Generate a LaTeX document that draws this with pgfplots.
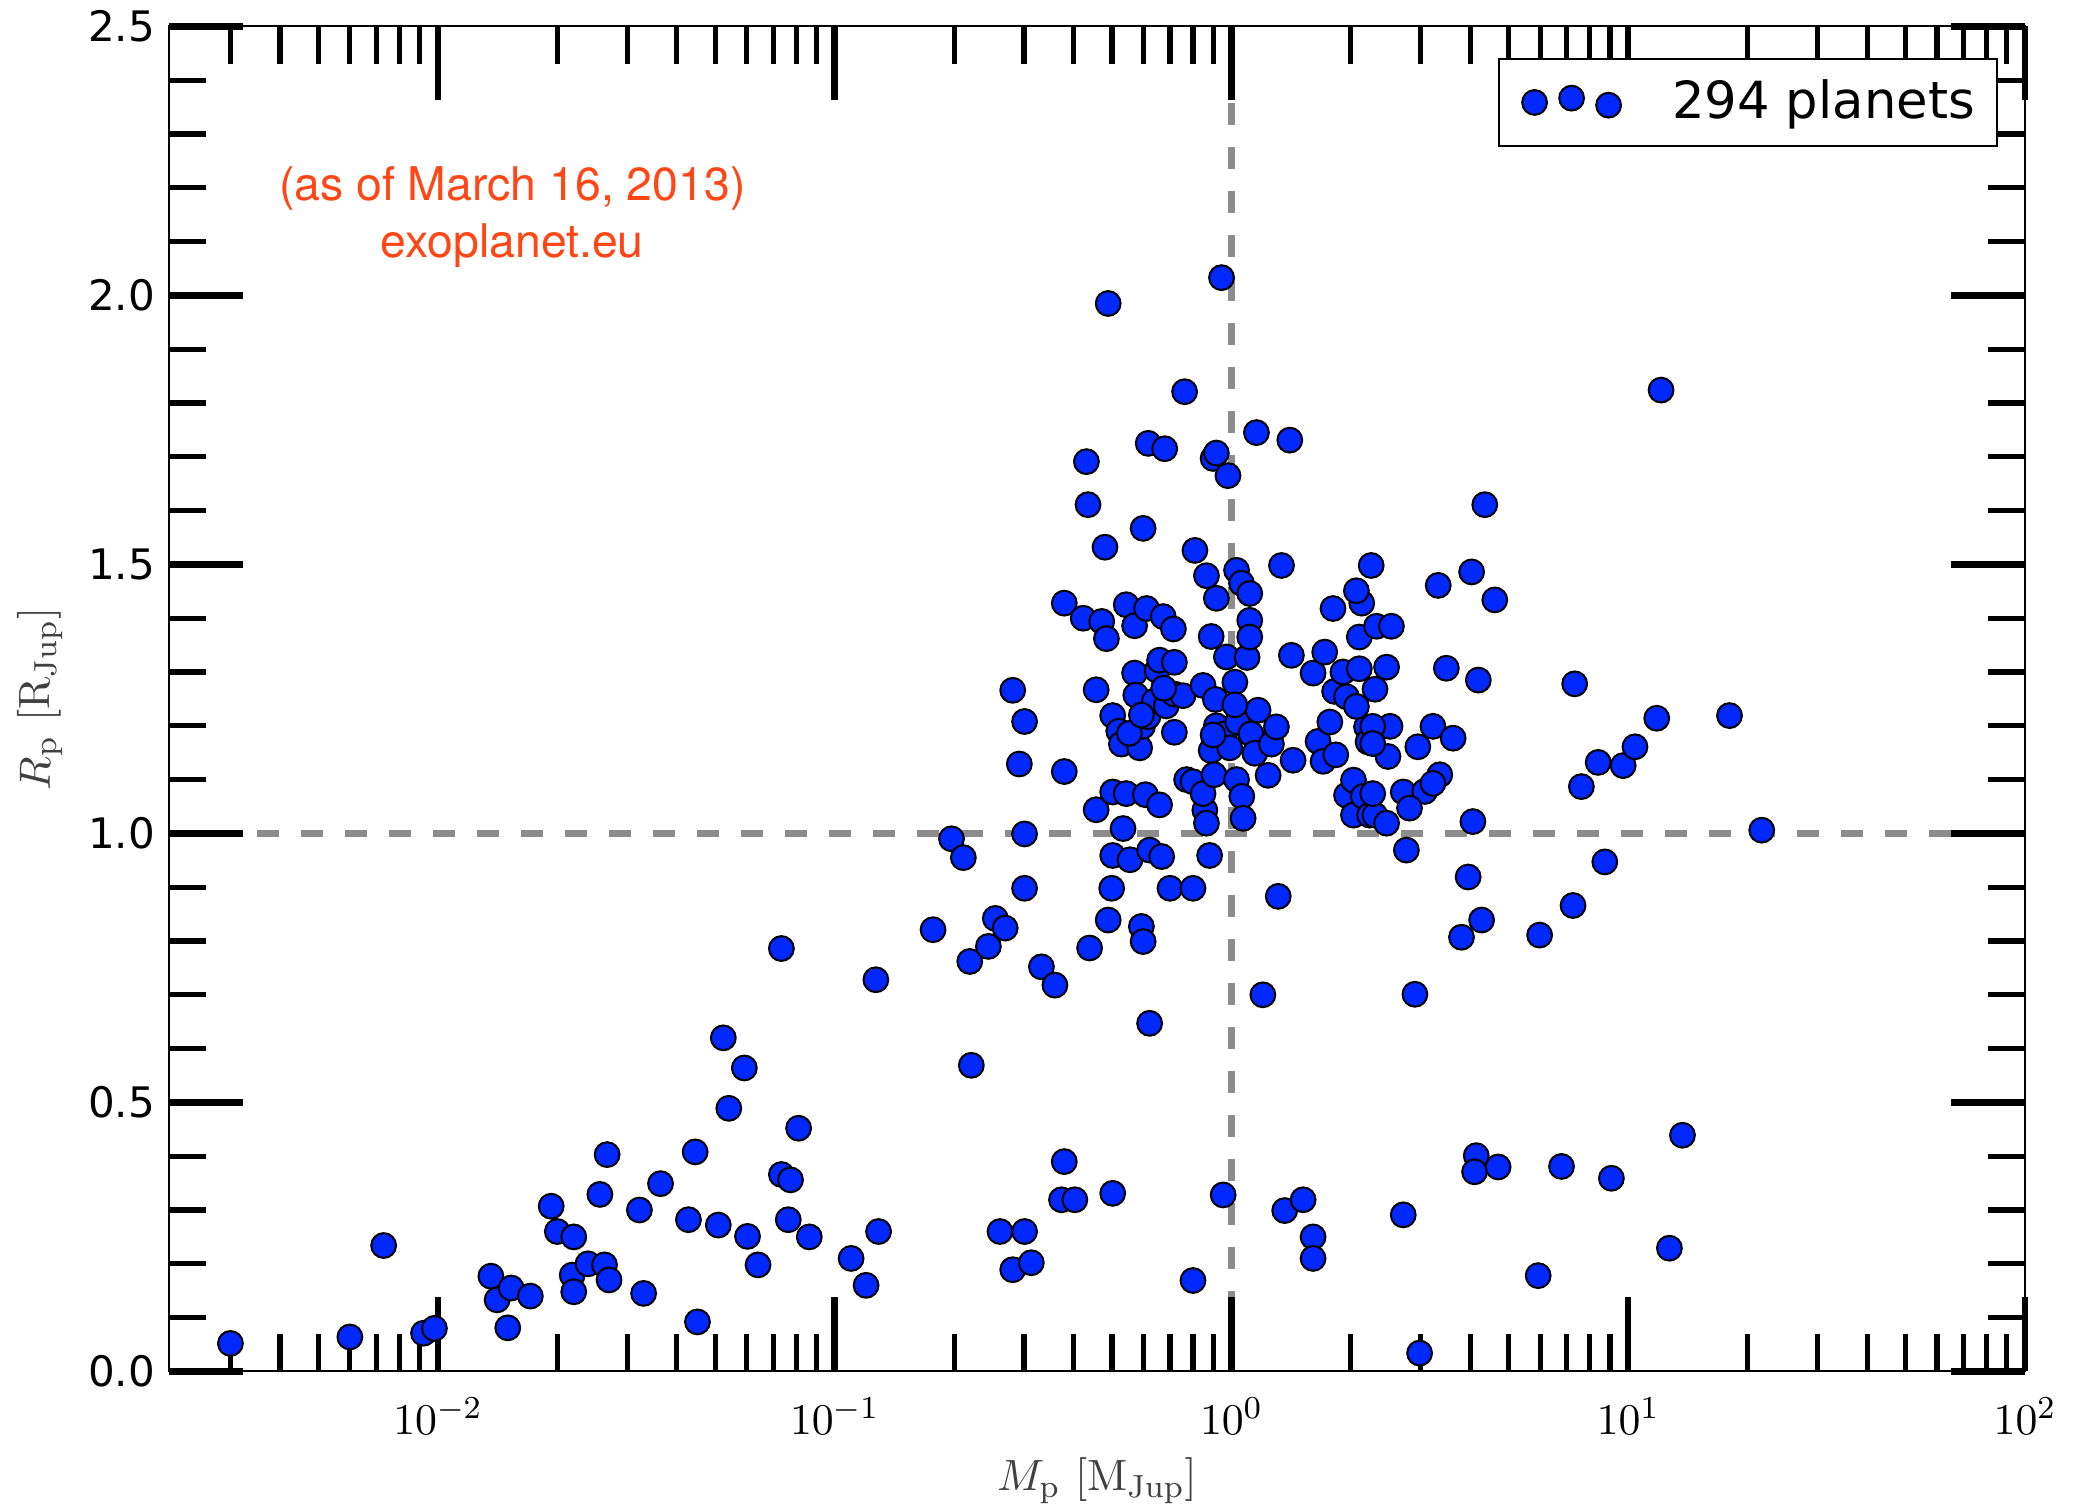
\documentclass[border=0pt]{standalone}
\usepackage{fontspec}
\usepackage{pgfplots}
\pgfplotsset{compat=1.18}
\newfontfamily\dejavu{DejaVu Sans}
\newfontfamily\heros{TeX Gyre Heros}
\definecolor{ptblue}{RGB}{0,40,255}
\definecolor{dashgray}{RGB}{140,140,140}
\definecolor{notered}{RGB}{255,70,20}

\begin{document}
\begin{tikzpicture}
\begin{axis}[
  scale only axis, width=464pt, height=336.25pt,
  xmode=log, xmin=0.0021, xmax=100, ymin=0, ymax=2.5,
  xtick={0.01,0.1,1,10,100},
  xticklabels={$10^{-2}$,$10^{-1}$,$10^{0}$,$10^{1}$,$10^{2}$},
  minor xtick={0.003,0.004,0.005,0.006,0.007,0.008,0.009,
               0.02,0.03,0.04,0.05,0.06,0.07,0.08,0.09,
               0.2,0.3,0.4,0.5,0.6,0.7,0.8,0.9,
               2,3,4,5,6,7,8,9,20,30,40,50,60,70,80,90},
  ytick={0,0.5,1,1.5,2,2.5},
  yticklabels={0.0,0.5,1.0,1.5,2.0,2.5},
  minor ytick={0.1,0.2,0.3,0.4,0.6,0.7,0.8,0.9,1.1,1.2,1.3,1.4,1.6,1.7,1.8,1.9,2.1,2.2,2.3,2.4},
  tick align=inside,
  major tick length=18.5pt, minor tick length=9.3pt,
  major tick style={line width=1.6pt, black},
  minor tick style={line width=1.3pt, black},
  axis line style={line width=0.5pt, black},
  axis on top,
  xticklabel style={font=\fontsize{10.95}{12}\selectfont, yshift=-3pt},
  yticklabel style={font=\dejavu\fontsize{10.5}{12}\selectfont},
  xlabel={$M_\mathrm{p}\ [\mathrm{M_{Jup}}]$},
  ylabel={$R_\mathrm{p}\ [\mathrm{R_{Jup}}]$},
  xlabel style={at={([yshift=-27.4pt]axis description cs:0.5,0)}, anchor=center, font=\fontsize{10.95}{13}\selectfont, text=black!75},
  ylabel style={at={([xshift=-32.25pt]axis description cs:0,0.5)}, anchor=center, font=\fontsize{10.95}{13}\selectfont, text=black!75},
  legend style={at={(1,1)}, anchor=north east, xshift=-6.8pt, yshift=-7.85pt,
    draw=black, line width=0.5pt, inner xsep=5.5pt, inner ysep=5.3pt,
    nodes={inner sep=0pt}, font=\dejavu\fontsize{12.8}{14}\selectfont,
    /tikz/every odd column/.append style={column sep=12.5pt}},
  legend cell align=left,
]
\addplot[only marks, mark=*, mark size=3.1pt,
  mark options={fill=ptblue, draw=black, line width=0.5pt},
  legend image code/.code={
    \draw[fill=ptblue, draw=black, line width=0.5pt]
      (0pt,0pt) circle[radius=3.1pt]
      (9.25pt,1.08pt) circle[radius=3.1pt]
      (18.5pt,-0.68pt) circle[radius=3.1pt];
  }] coordinates {
(0.0030,0.052) (0.0060,0.064) (0.0073,0.234) (0.0092,0.071) (0.0098,0.080)
(0.0136,0.177) (0.0141,0.133) (0.0153,0.155) (0.0150,0.081) (0.0171,0.140)
(0.0193,0.307) (0.0200,0.260) (0.0220,0.250) (0.0218,0.179) (0.0220,0.148)
(0.0239,0.200) (0.0256,0.329) (0.0267,0.403) (0.0263,0.198) (0.0270,0.170)
(0.0322,0.300) (0.0330,0.145) (0.0364,0.349) (0.0428,0.282) (0.0445,0.408)
(0.0451,0.092) (0.0509,0.272) (0.0524,0.620) (0.0541,0.489) (0.0592,0.564)
(0.0603,0.251) (0.0641,0.198) (0.0734,0.786) (0.0734,0.366) (0.0774,0.356)
(0.0764,0.282) (0.0811,0.452) (0.0863,0.250) (0.110,0.210) (0.120,0.160)
(0.127,0.728) (0.129,0.260) (0.177,0.821) (0.197,0.990) (0.211,0.955)
(0.219,0.762) (0.221,0.569) (0.244,0.790) (0.254,0.842) (0.269,0.824)
(0.261,0.260) (0.281,1.266) (0.281,0.189) (0.292,1.129) (0.301,1.208)
(0.301,0.999) (0.301,0.898) (0.301,0.260) (0.313,0.202) (0.332,0.752)
(0.359,0.718) (0.379,1.115) (0.379,1.428) (0.379,0.390) (0.373,0.319)
(0.403,0.319) (0.423,1.400) (0.431,1.691) (0.435,1.611) (0.439,0.787)
(0.456,1.267) (0.456,1.044) (0.471,1.394) (0.480,1.532) (0.484,1.362)
(0.489,1.985) (0.502,1.219) (0.502,1.077) (0.489,0.839) (0.499,0.898)
(0.502,0.959) (0.502,0.331) (0.520,1.190) (0.533,1.009) (0.528,1.166)
(0.543,1.425) (0.555,0.951) (0.543,1.074) (0.570,1.298) (0.570,1.386)
(0.574,1.257) (0.587,1.159) (0.597,1.199) (0.593,0.827) (0.599,1.567)
(0.599,0.799) (0.611,1.418) (0.607,1.072) (0.617,1.725) (0.616,1.217)
(0.622,0.647) (0.622,0.969) (0.640,1.246) (0.650,1.303) (0.659,1.053)
(0.673,1.403) (0.667,0.957) (0.679,1.715) (0.685,1.237) (0.659,1.322)
(0.700,0.898) (0.714,1.380) (0.718,1.188) (0.718,1.259) (0.718,1.318)
(0.771,1.100) (0.762,1.821) (0.755,1.256) (0.800,0.898) (0.800,1.096)
(0.800,0.169) (0.809,1.526) (0.857,1.043) (0.848,1.074) (0.848,1.275)
(0.865,1.479) (0.865,1.019) (0.881,0.959) (0.889,1.366) (0.899,1.697)
(0.916,1.200) (0.889,1.154) (0.904,1.109) (0.911,1.249) (0.916,1.437)
(0.916,1.707) (0.944,2.033) (0.971,1.328) (0.953,0.328) (0.961,1.185)
(0.980,1.665) (1.030,1.100) (1.020,1.281) (1.037,1.207) (1.062,1.069)
(1.070,1.028) (1.030,1.489) (1.060,1.465) (1.112,1.446) (1.095,1.327)
(1.112,1.396) (1.112,1.365) (1.120,1.185) (1.145,1.149) (1.167,1.229)
(1.156,1.745) (1.200,0.700) (1.237,1.108) (1.261,1.166) (1.298,1.198)
(1.312,0.883) (1.337,1.498) (1.362,0.299) (1.403,1.731) (1.416,1.331)
(1.430,1.136) (1.516,0.319) (1.606,1.298) (1.606,0.250) (1.606,0.210)
(1.653,1.171) (1.702,1.134) (1.718,1.337) (1.803,1.418) (1.770,1.207)
(1.820,1.264) (1.832,1.146) (1.910,1.300) (1.950,1.071) (1.950,1.254)
(2.030,1.034) (2.130,1.428) (2.030,1.099) (2.100,1.365) (2.065,1.451)
(2.100,1.306) (2.190,1.198) (2.210,1.170) (2.150,1.069) (2.230,1.034)
(2.250,1.498) (2.300,1.268) (2.320,1.385) (2.300,1.034) (2.460,1.019)
(2.460,1.309) (2.510,1.199) (2.480,1.143) (2.530,1.385) (2.710,1.077)
(2.760,0.969) (2.710,0.291) (2.900,0.701) (2.950,1.161) (2.980,0.034)
(3.070,1.078) (3.220,1.199) (3.350,1.109) (3.220,1.093) (3.320,1.461)
(3.480,1.307) (3.620,1.177) (3.800,0.807) (3.950,0.919) (4.030,1.486)
(4.060,1.022) (4.140,0.401) (4.100,0.371) (4.190,1.285) (4.270,0.839)
(4.350,1.611) (4.610,1.434) (4.700,0.380) (5.980,0.811) (5.930,0.178)
(6.790,0.381) (7.260,0.866) (7.330,1.278) (7.620,1.087) (8.400,1.132)
(8.730,0.947) (9.070,0.359) (9.710,1.126) (10.4,1.161) (11.8,1.214)
(12.1,1.824) (12.7,0.229) (13.7,0.439) (18.0,1.219) (21.7,1.006)
(0.553,1.186) (0.593,1.220) (0.675,1.270) (0.990,1.159) (1.020,1.239)
(2.065,1.236) (2.270,1.199) (2.270,1.167) (2.270,1.074) (2.810,1.047)
(0.899,1.183)
};
\addlegendentry{294 planets}
\addplot[forget plot, dashgray, line width=1.7pt, dash pattern=on 5.4pt off 5.6pt]
  coordinates {(0.0021,1) (100,1)};
\addplot[forget plot, dashgray, line width=1.7pt, dash pattern=on 5.4pt off 5.6pt]
  coordinates {(1,2.357) (1,0)};
\node[align=center, text=notered, font=\heros\fontsize{11.6}{14.2}\selectfont]
  at (axis description cs:0.185,0.858) {(as of March 16, 2013)\\exoplanet.eu};
\end{axis}
\pgfresetboundingbox
\path[use as bounding box] ([xshift=-42.25pt,yshift=-34.6pt]current axis.south west) rectangle ([xshift=12.25pt,yshift=6.6pt]current axis.north east);
\end{tikzpicture}
\end{document}
